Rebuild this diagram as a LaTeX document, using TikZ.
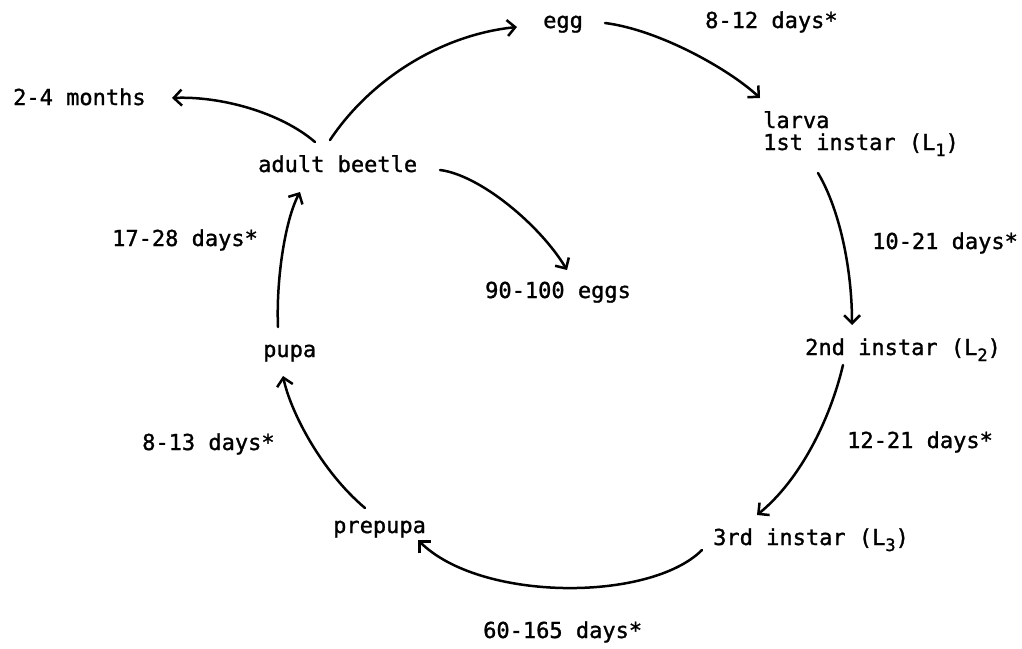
\documentclass[tikz,border=0pt]{standalone}
\usepackage{fontspec}
\setmonofont[FakeBold=1.2]{DejaVu Sans Mono}
\usetikzlibrary{arrows.meta}
\newcommand{\subs}[1]{\raisebox{-6pt}{\fontsize{17}{17}\selectfont #1}}
\tikzset{
  lbl/.style={anchor=base west, inner sep=0pt, font=\ttfamily\fontsize{22}{24}\selectfont},
  cyc/.style={line width=2.5pt, line cap=round, -{Straight Barb[length=8pt,width=16pt,line width=2.5pt]}}
}
\begin{document}
\begin{tikzpicture}[x=1pt,y=-1pt]
\useasboundingbox[fill=white] (0,0) rectangle (1022,648);
\node[lbl] (egg) at (543,28) {egg};
\node[lbl] (d1) at (705,28) {8-12 days*};
\node[lbl] (larva) at (763,128) {larva};
\node[lbl] (inst1) at (763,150) {1st instar (L\subs{1})};
\node[lbl] (d2) at (872,249) {10-21 days*};
\node[lbl] (inst2) at (805,355) {2nd instar (L\subs{2})};
\node[lbl] (d3) at (847,448) {12-21 days*};
\node[lbl] (inst3) at (713,545) {3rd instar (L\subs{3})};
\node[lbl] (d4) at (483,638) {60-165 days*};
\node[lbl] (prepupa) at (333,533) {prepupa};
\node[lbl] (d5) at (142,450) {8-13 days*};
\node[lbl] (pupa) at (263,357) {pupa};
\node[lbl] (d6) at (112,246) {17-28 days*};
\node[lbl] (adult) at (258,172) {adult beetle};
\node[lbl] (months) at (13,105) {2-4 months};
\node[lbl] (eggs) at (485,298) {90-100 eggs};

% adult -> egg
\draw[cyc] ([xshift=72pt,yshift=32pt]adult.base west) .. controls (370,80) and (440,35) .. ([xshift=-26pt,yshift=1pt]egg.base west);
% adult -> 2-4 months
\draw[cyc] ([xshift=57pt,yshift=30pt]adult.base west) .. controls (280,112) and (220,96) .. ([xshift=159pt,yshift=7pt]months.base west);
% adult -> 90-100 eggs
\draw[cyc] ([xshift=182pt,yshift=2pt]adult.base west) .. controls (480,175) and (540,225) .. ([xshift=82pt,yshift=28pt]eggs.base west);
% egg -> larva
\draw[cyc] ([xshift=62pt,yshift=5pt]egg.base west) .. controls (660,30) and (730,70) .. ([xshift=-3pt,yshift=30pt]larva.base west);
% larva -> 2nd instar
\draw[cyc] ([xshift=55pt,yshift=-23pt]inst1.base west) .. controls (840,210) and (852,270) .. ([xshift=47pt,yshift=30pt]inst2.base west);
% 2nd -> 3rd
\draw[cyc] ([xshift=38pt,yshift=-10pt]inst2.base west) .. controls (830,420) and (800,480) .. ([xshift=44pt,yshift=30pt]inst3.base west);
% 3rd -> prepupa
\draw[cyc] ([xshift=-11pt,yshift=-5pt]inst3.base west) .. controls (650,602) and (480,602) .. ([xshift=85pt,yshift=-7pt]prepupa.base west);
% prepupa -> pupa
\draw[cyc] ([xshift=32pt,yshift=25pt]prepupa.base west) .. controls (320,470) and (290,410) .. ([xshift=20pt,yshift=-19pt]pupa.base west);
% pupa -> adult
\draw[cyc] ([xshift=15pt,yshift=30pt]pupa.base west) .. controls (276,280) and (285,220) .. ([xshift=42pt,yshift=-20pt]adult.base west);
\end{tikzpicture}
\end{document}
